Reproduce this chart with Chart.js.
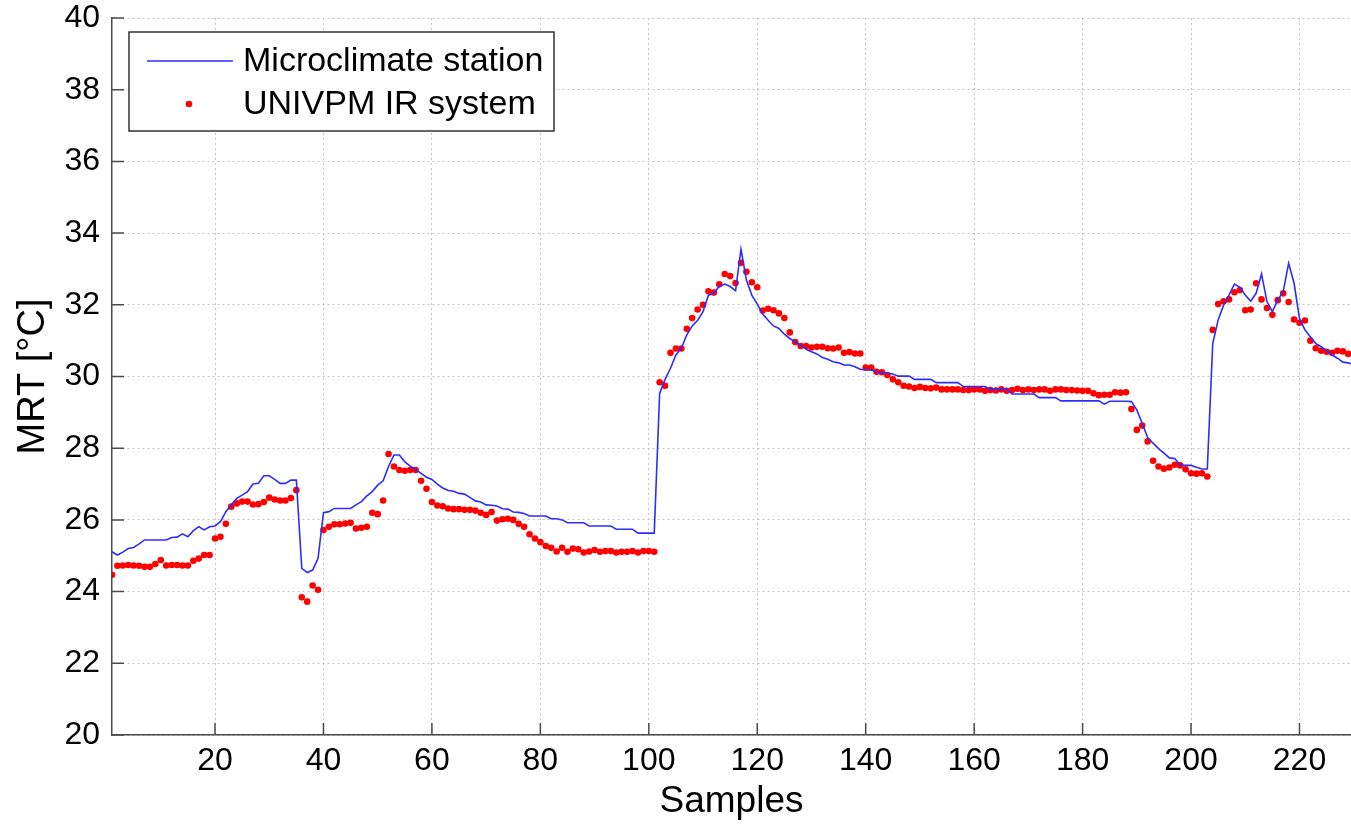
<!DOCTYPE html>
<html>
<head>
<meta charset="utf-8">
<script src="https://cdn.jsdelivr.net/npm/chart.js@4.4.0/dist/chart.umd.min.js"></script>
<style>
html, body { margin: 0; padding: 0; background: #fff; }
</style>
</head>
<body>
<canvas id="mrtChart" width="1351" height="827"></canvas>
<script>
// MRT readings, one value per sample (sample number = index + 1)
var stationLabel = "Microclimate station";
var irLabel = "UNIVPM IR system";

var stationMrt = [
    25.11, 25.02, 25.10, 25.20, 25.23, 25.33, 25.44, 25.44, 25.44, 25.44,
    25.44, 25.51, 25.52, 25.61, 25.53, 25.70, 25.81, 25.72, 25.81, 25.83,
    25.95, 26.23, 26.42, 26.60, 26.69, 26.79, 27.00, 27.02, 27.23, 27.23,
    27.13, 27.02, 27.02, 27.11, 27.11, 24.65, 24.53, 24.60, 24.93, 26.20,
    26.23, 26.32, 26.32, 26.32, 26.32, 26.42, 26.51, 26.67, 26.79, 26.97,
    27.09, 27.49, 27.81, 27.81, 27.62, 27.50, 27.41, 27.30, 27.19, 27.13,
    27.00, 26.89, 26.82, 26.80, 26.74, 26.72, 26.63, 26.53, 26.50, 26.42,
    26.41, 26.39, 26.31, 26.30, 26.22, 26.21, 26.18, 26.11, 26.11, 26.11,
    26.11, 26.03, 26.03, 26.00, 25.92, 25.92, 25.92, 25.92, 25.83, 25.83,
    25.83, 25.83, 25.83, 25.74, 25.74, 25.74, 25.74, 25.63, 25.63, 25.63,
    25.63, 29.53, 29.92, 30.23, 30.60, 30.79, 31.16, 31.41, 31.57, 31.81,
    32.27, 32.32, 32.52, 32.58, 32.51, 32.39, 33.55, 32.69, 32.27, 32.02,
    31.74, 31.57, 31.41, 31.34, 31.18, 31.06, 30.97, 30.88, 30.76, 30.69,
    30.63, 30.53, 30.48, 30.41, 30.38, 30.32, 30.32, 30.27, 30.20, 30.18,
    30.18, 30.13, 30.09, 30.09, 30.07, 30.01, 30.01, 30.01, 29.92, 29.92,
    29.92, 29.92, 29.83, 29.83, 29.83, 29.83, 29.83, 29.72, 29.72, 29.72,
    29.72, 29.72, 29.64, 29.64, 29.64, 29.64, 29.51, 29.51, 29.51, 29.51,
    29.51, 29.41, 29.41, 29.41, 29.41, 29.32, 29.32, 29.32, 29.32, 29.32,
    29.32, 29.32, 29.32, 29.23, 29.31, 29.31, 29.31, 29.31, 29.30, 29.07,
    28.69, 28.30, 28.14, 27.99, 27.86, 27.73, 27.71, 27.53, 27.52, 27.52,
    27.47, 27.42, 27.42, 30.92, 31.58, 31.99, 32.27, 32.58, 32.49, 32.27,
    32.10, 32.32, 32.86, 32.09, 31.81, 32.13, 32.37, 33.16, 32.60, 31.62,
    31.30, 31.11, 30.92, 30.83, 30.72, 30.60, 30.51, 30.40, 30.38, 30.33
];

var irMrt = [
    24.47, 24.72, 24.73, 24.74, 24.73, 24.72, 24.69, 24.69, 24.77, 24.88,
    24.73, 24.74, 24.74, 24.73, 24.73, 24.86, 24.92, 25.02, 25.02, 25.48,
    25.53, 25.89, 26.37, 26.46, 26.51, 26.51, 26.43, 26.44, 26.50, 26.62,
    26.57, 26.54, 26.54, 26.61, 26.83, 23.84, 23.72, 24.17, 24.05, 25.72,
    25.81, 25.88, 25.88, 25.90, 25.92, 25.76, 25.78, 25.81, 26.20, 26.16,
    26.54, 27.84, 27.49, 27.39, 27.37, 27.39, 27.39, 27.09, 26.87, 26.50,
    26.40, 26.38, 26.32, 26.30, 26.30, 26.28, 26.28, 26.26, 26.20, 26.14,
    26.22, 25.98, 26.02, 26.03, 26.00, 25.89, 25.81, 25.60, 25.48, 25.38,
    25.27, 25.22, 25.12, 25.22, 25.11, 25.20, 25.18, 25.09, 25.12, 25.16,
    25.11, 25.13, 25.13, 25.09, 25.11, 25.11, 25.13, 25.09, 25.13, 25.13,
    25.11, 29.84, 29.74, 30.66, 30.78, 30.78, 31.33, 31.63, 31.87, 32.00,
    32.38, 32.34, 32.57, 32.86, 32.80, 32.61, 33.17, 32.92, 32.63, 32.49,
    31.84, 31.89, 31.85, 31.76, 31.63, 31.23, 30.96, 30.85, 30.85, 30.81,
    30.83, 30.83, 30.79, 30.78, 30.81, 30.66, 30.68, 30.64, 30.64, 30.25,
    30.25, 30.13, 30.12, 30.04, 29.92, 29.84, 29.74, 29.72, 29.68, 29.71,
    29.68, 29.67, 29.69, 29.64, 29.64, 29.64, 29.64, 29.62, 29.62, 29.64,
    29.64, 29.60, 29.62, 29.61, 29.64, 29.60, 29.62, 29.66, 29.62, 29.64,
    29.62, 29.64, 29.64, 29.60, 29.64, 29.64, 29.62, 29.62, 29.61, 29.60,
    29.60, 29.53, 29.48, 29.49, 29.49, 29.56, 29.55, 29.56, 29.09, 28.51,
    28.63, 28.19, 27.65, 27.49, 27.43, 27.46, 27.54, 27.52, 27.41, 27.30,
    27.29, 27.30, 27.21, 31.30, 32.02, 32.10, 32.15, 32.35, 32.41, 31.85,
    31.87, 32.60, 32.15, 31.91, 31.72, 32.13, 32.32, 32.08, 31.59, 31.50,
    31.56, 31.00, 30.79, 30.72, 30.69, 30.66, 30.72, 30.70, 30.63, 30.62
];

var xTicks = [20, 40, 60, 80, 100, 120, 140, 160, 180, 200, 220];
var yTicks = [20, 22, 24, 26, 28, 30, 32, 34, 36, 38, 40];

var fontFamily = "'Liberation Sans', Arial, Helvetica, sans-serif";
var axisColor = "#4a4a4a";
var gridColor = "#c4c4c4";
var lineBlue = "rgb(45,45,255)";

function toPoints(values){
    return values.map(function(v, i){ return {x: i + 1, y: v}; });
}

// matlab style ticks drawn inward from the axes
var innerTicks = {
    id: "innerTicks",
    afterDatasetsDraw: function(chart){
        var ctx = chart.ctx;
        var area = chart.chartArea;
        var xs = chart.scales.x;
        var ys = chart.scales.y;
        ctx.save();
        ctx.strokeStyle = axisColor;
        ctx.lineWidth = 1.5;
        ctx.beginPath();
        xTicks.forEach(function(t){
            var px = xs.getPixelForValue(t);
            ctx.moveTo(px, area.bottom);
            ctx.lineTo(px, area.bottom - 12);
        });
        yTicks.forEach(function(t){
            var py = ys.getPixelForValue(t);
            ctx.moveTo(area.left, py);
            ctx.lineTo(area.left + 12, py);
        });
        ctx.stroke();
        ctx.restore();
    }
};

// boxed legend inside the plot, top left
var boxLegend = {
    id: "boxLegend",
    afterDraw: function(chart){
        var ctx = chart.ctx;
        var area = chart.chartArea;
        var sets = chart.data.datasets;
        var left = area.left + 17;
        var top = area.top + 14;
        var w = 425;
        var h = 99;
        ctx.save();
        ctx.fillStyle = "#fff";
        ctx.fillRect(left, top, w, h);
        ctx.strokeStyle = "#333";
        ctx.lineWidth = 1.5;
        ctx.strokeRect(left, top, w, h);

        var row1 = top + 29;
        var row2 = top + 72;
        ctx.strokeStyle = sets[0].borderColor;
        ctx.lineWidth = sets[0].borderWidth;
        ctx.beginPath();
        ctx.moveTo(left + 18, row1);
        ctx.lineTo(left + 104, row1);
        ctx.stroke();

        ctx.fillStyle = sets[1].pointBackgroundColor;
        ctx.beginPath();
        ctx.arc(left + 60, row2, sets[1].pointRadius, 0, Math.PI * 2);
        ctx.fill();

        ctx.fillStyle = "#000";
        ctx.font = "34px " + fontFamily;
        ctx.textBaseline = "middle";
        ctx.textAlign = "left";
        ctx.fillText(sets[0].label, left + 114, row1 + 1);
        ctx.fillText(sets[1].label, left + 114, row2 + 1);
        ctx.restore();
    }
};

var mrtChart = new Chart(document.getElementById("mrtChart"), {
    type: "line",
    data: {
        datasets: [{
            label: stationLabel,
            data: toPoints(stationMrt),
            borderColor: lineBlue,
            borderWidth: 1.6,
            pointRadius: 0,
            tension: 0,
            fill: false
        }, {
            label: irLabel,
            data: toPoints(irMrt),
            showLine: false,
            pointRadius: 3.3,
            pointBorderWidth: 0,
            pointBackgroundColor: "rgb(255,0,0)",
            pointBorderColor: "rgb(255,0,0)"
        }]
    },
    options: {
        responsive: false,
        animation: false,
        layout: {autoPadding: false, padding: {top: 18, right: 0, bottom: 0, left: 0}},
        plugins: {
            legend: {display: false},
            tooltip: {enabled: false}
        },
        scales: {
            x: {
                type: "linear",
                min: 1,
                max: 229.5,
                afterBuildTicks: function(axis){
                    axis.ticks = xTicks.map(function(v){ return {value: v}; });
                },
                afterFit: function(axis){
                    axis.height = 92;
                    axis.paddingLeft = 0;
                    axis.paddingRight = 0;
                },
                grid: {color: gridColor, lineWidth: 1, drawTicks: false},
                border: {display: true, color: axisColor, width: 1.5, dash: [2, 3]},
                ticks: {
                    padding: 7,
                    color: "#000",
                    maxRotation: 0,
                    autoSkip: false,
                    font: {family: fontFamily, size: 32}
                },
                title: {
                    display: true,
                    text: "Samples",
                    color: "#000",
                    font: {family: fontFamily, size: 37},
                    padding: {top: 0, bottom: 3}
                }
            },
            y: {
                min: 20,
                max: 40,
                afterBuildTicks: function(axis){
                    axis.ticks = yTicks.map(function(v){ return {value: v}; });
                },
                afterFit: function(axis){
                    axis.width = 112;
                    axis.paddingTop = 0;
                    axis.paddingBottom = 0;
                },
                grid: {color: gridColor, lineWidth: 1, drawTicks: false},
                border: {display: true, color: axisColor, width: 1.5, dash: [2, 3]},
                ticks: {
                    padding: 12,
                    color: "#000",
                    font: {family: fontFamily, size: 32}
                },
                title: {
                    display: true,
                    text: "MRT [°C]",
                    color: "#000",
                    font: {family: fontFamily, size: 38},
                    padding: {top: 11, bottom: 0}
                }
            }
        }
    },
    plugins: [innerTicks, boxLegend]
});
</script>
</body>
</html>
